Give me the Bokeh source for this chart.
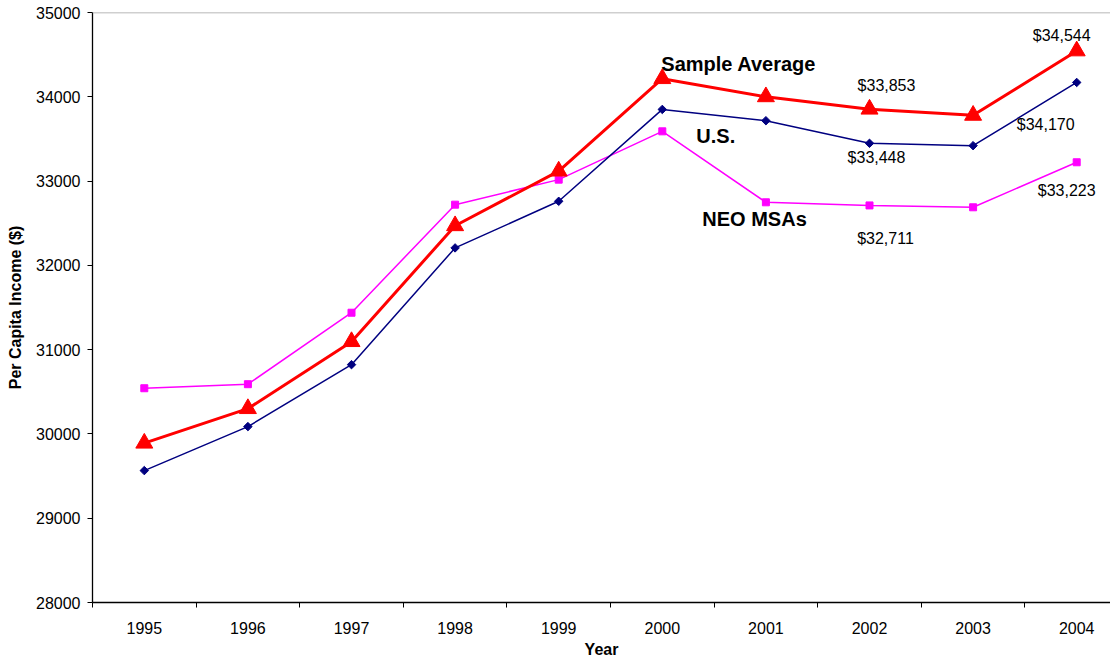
from bokeh.plotting import figure
from bokeh.models import Range1d, FixedTicker, NumeralTickFormatter, Span, ColumnDataSource
from bokeh.core.properties import value
from bokeh.embed import file_html
from bokeh.resources import INLINE

years = [1995, 1996, 1997, 1998, 1999, 2000, 2001, 2002, 2003, 2004]
sample_average = [29890, 30300, 31095, 32470, 33118, 34215, 34000, 33853, 33780, 34544]
us = [29565, 30087, 30822, 32207, 32760, 33850, 33716, 33448, 33420, 34170]
neo_msas = [30542, 30590, 31438, 32720, 33017, 33590, 32748, 32711, 32689, 33223]
y_ticks = [28000, 29000, 30000, 31000, 32000, 33000, 34000, 35000]
series_names = ["Sample Average", "U.S.", "NEO MSAs"]

FONT = "Liberation Sans"
RED = "#FF0000"
NAVY = "#000080"
MAGENTA = "#FF00FF"

W, H = 1110, 662
B_LEFT, B_TOP, B_BOTTOM = 92, 12, 60
FRAME_W = W - B_LEFT
BAND_PX = 103.6
y0, y1 = y_ticks[0], y_ticks[-1]
x0 = years[0] - 0.5
x1 = x0 + FRAME_W / BAND_PX

p = figure(width=W, height=H, output_backend="svg", toolbar_location=None,
           x_range=Range1d(x0, x1), y_range=Range1d(y0, y1),
           min_border_left=B_LEFT, min_border_right=0, min_border_top=B_TOP,
           min_border_bottom=B_BOTTOM)
p.outline_line_color = None
p.xgrid.visible = False
p.ygrid.visible = False
p.background_fill_color = "white"

# top border line
p.add_layout(Span(location=y1, dimension="width", line_color="#A0A0A0", line_width=1.5))

# x axis
xa = p.xaxis[0]
xa.ticker = FixedTicker(ticks=years, minor_ticks=[y - 0.5 for y in years])
xa.formatter = NumeralTickFormatter(format="0")
xa.major_tick_out = 0
xa.major_tick_in = 0
xa.minor_tick_out = 5
xa.minor_tick_in = 0
xa.minor_tick_line_color = "black"
xa.axis_line_color = "black"
xa.axis_line_width = 1.3
xa.major_label_standoff = 14
xa.major_label_text_font = FONT
xa.major_label_text_font_size = "16px"
xa.major_label_text_color = "black"
xa.axis_label = "Year"
xa.axis_label_standoff = 4
xa.axis_label_text_font = FONT
xa.axis_label_text_font_size = "16px"
xa.axis_label_text_font_style = "bold"
xa.axis_label_text_color = "black"

# y axis
ya = p.yaxis[0]
ya.ticker = FixedTicker(ticks=y_ticks)
ya.formatter = NumeralTickFormatter(format="0")
ya.major_tick_out = 5
ya.major_tick_in = 0
ya.minor_tick_out = 0
ya.minor_tick_in = 0
ya.axis_line_color = "black"
ya.axis_line_width = 1.3
ya.major_label_standoff = 7
ya.major_label_text_font = FONT
ya.major_label_text_font_size = "16px"
ya.major_label_text_color = "black"
ya.axis_label = "Per Capita Income ($)"
ya.axis_label_standoff = 9
ya.axis_label_text_font = FONT
ya.axis_label_text_font_size = "16px"
ya.axis_label_text_font_style = "bold"
ya.axis_label_text_color = "black"

# series
p.line(years, neo_msas, line_color=MAGENTA, line_width=1.5)
p.scatter(years, neo_msas, marker="square", size=7, fill_color=MAGENTA, line_color=MAGENTA)

p.line(years, us, line_color=NAVY, line_width=1.5)
p.scatter(years, us, marker="square", angle=0.785398, size=6, fill_color=NAVY, line_color=NAVY)

p.line(years, sample_average, line_color=RED, line_width=3)
p.scatter(years, sample_average, marker="triangle", size=17, fill_color=RED, line_color=RED)

# value labels (2002 and 2004)
def money(v):
    return "$" + format(v, ",")

i02 = years.index(2002)
i04 = years.index(2004)
val_src = ColumnDataSource(dict(
    x=[2002, 2002, 2002, 2004, 2004, 2004],
    y=[sample_average[i02], us[i02], neo_msas[i02], sample_average[i04], us[i04], neo_msas[i04]],
    t=[money(sample_average[i02]), money(us[i02]), money(neo_msas[i02]),
       money(sample_average[i04]), money(us[i04]), money(neo_msas[i04])],
    dx=[17, 7, 16, -15, -31, -10],
    dy=[-24, 14, 33, -15, 42, 28],
))
p.text(x="x", y="y", text="t", x_offset="dx", y_offset="dy", source=val_src,
       text_font=value(FONT), text_font_size="16px", text_color="black",
       text_align="center", text_baseline="middle")

# series name labels near year 2000
i00 = years.index(2000)
name_src = ColumnDataSource(dict(
    x=[2000, 2000, 2000],
    y=[sample_average[i00], us[i00], neo_msas[i00]],
    t=series_names,
    dx=[-1, 34, 40],
    dy=[-15, 27, 88],
))
p.text(x="x", y="y", text="t", x_offset="dx", y_offset="dy", source=name_src,
       text_font=value(FONT), text_font_size="20px", text_font_style="bold",
       text_color="black", text_align="left", text_baseline="middle")

open("out.html", "w").write(file_html(p, INLINE))
